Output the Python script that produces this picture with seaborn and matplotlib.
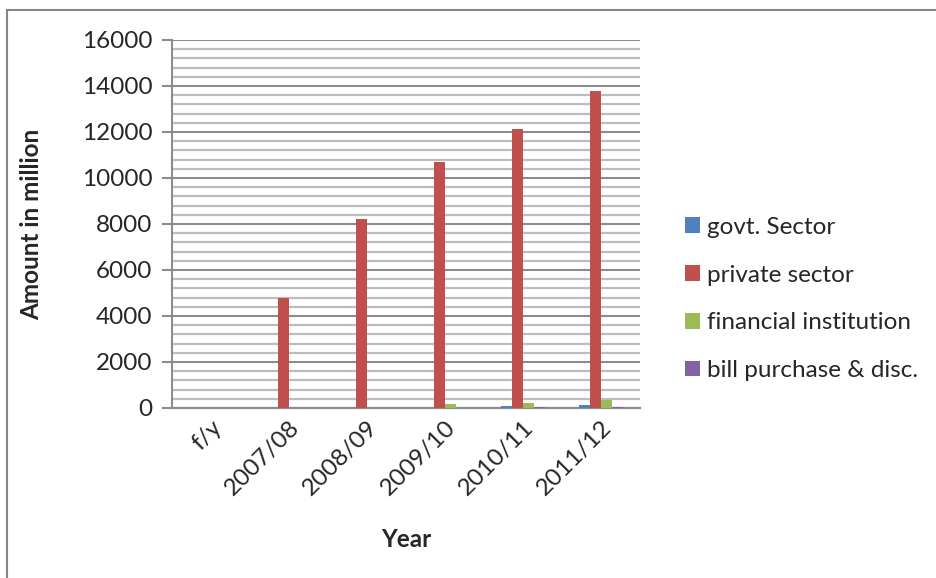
import matplotlib
matplotlib.use("Agg")
import matplotlib.pyplot as plt
from matplotlib.patches import Rectangle
from matplotlib.ticker import MultipleLocator
import seaborn as sns
import pandas as pd

years = ["f/y", "2007/08", "2008/09", "2009/10", "2010/11", "2011/12"]
govt_sector = [0, 0, 0, 10, 70, 150]
private_sector = [0, 4800, 8200, 10700, 12150, 13800]
financial_institution = [0, 0, 0, 180, 200, 350]
bill_purchase = [0, 0, 0, 10, 60, 60]

series_names = ["govt. Sector", "private sector", "financial institution",
                "bill purchase & disc."]
series_values = [govt_sector, private_sector, financial_institution, bill_purchase]
colors = ["#4F81BD", "#C0504D", "#9BBB59", "#8064A2"]

rows = []
for name, vals in zip(series_names, series_values):
    for yr, v in zip(years, vals):
        rows.append({"Year": yr, "Sector": name, "Amount": v})
df = pd.DataFrame(rows)

sns.set_theme(style="white")
plt.rcParams["font.family"] = ["Lato", "DejaVu Sans"]

FS = 17.5
W, H = 937, 578
fig = plt.figure(figsize=(W / 100, H / 100), dpi=100)
ax = fig.add_axes([172 / W, 1 - 408 / H, (640 - 172) / W, (408 - 40) / H])

sns.barplot(data=df, x="Year", y="Amount", hue="Sector", order=years,
            hue_order=series_names, palette=colors, width=0.56, gap=0,
            saturation=1, errorbar=None, linewidth=0, ax=ax, zorder=3)

ax.set_ylim(0, 16000)
ax.set_xlim(-0.5, len(years) - 0.5)
ax.yaxis.set_major_locator(MultipleLocator(2000))
ax.yaxis.set_minor_locator(MultipleLocator(400))
ax.grid(which="major", axis="y", color="#8c8c8c", linewidth=1.5, zorder=0)
ax.grid(which="minor", axis="y", color="#bdbdbd", linewidth=1.6, zorder=0)
ax.set_axisbelow(True)

for side in ["top", "right"]:
    ax.spines[side].set_visible(False)
ax.spines["left"].set_color("#8c8c8c")
ax.spines["left"].set_linewidth(1.5)
ax.spines["bottom"].set_color("#8c8c8c")
ax.spines["bottom"].set_linewidth(1.6)

ax.tick_params(axis="y", which="major", direction="out", length=7, width=1.5,
               color="#8c8c8c", labelsize=FS, pad=7, left=True)
ax.tick_params(axis="y", which="minor", length=0)
ax.tick_params(axis="x", length=0, labelsize=FS, pad=6)
for lab in ax.get_xticklabels():
    lab.set_rotation(45)
    lab.set_ha("right")
    lab.set_rotation_mode("anchor")

ax.set_ylabel("Amount in million", fontsize=FS, fontweight="bold")
ax.yaxis.set_label_coords(-0.275, 0.5)
ax.set_xlabel("Year", fontsize=FS, fontweight="bold")
ax.xaxis.set_label_coords(0.5, -0.327)

handles, labels = ax.get_legend_handles_labels()
ax.legend(handles, labels, loc="center left",
          bbox_to_anchor=(675 / W, 1 - 299 / H), bbox_transform=fig.transFigure,
          frameon=False, fontsize=FS, handlelength=0.62, handleheight=0.62,
          handletextpad=0.3, labelspacing=1.1, borderaxespad=0)

fig.patches.append(Rectangle((7 / W, -0.1), 2, 1 - 10 / H + 0.1,
                             transform=fig.transFigure, fill=False,
                             edgecolor="#868686", linewidth=1.5))

fig.savefig("out.png", dpi=100)
